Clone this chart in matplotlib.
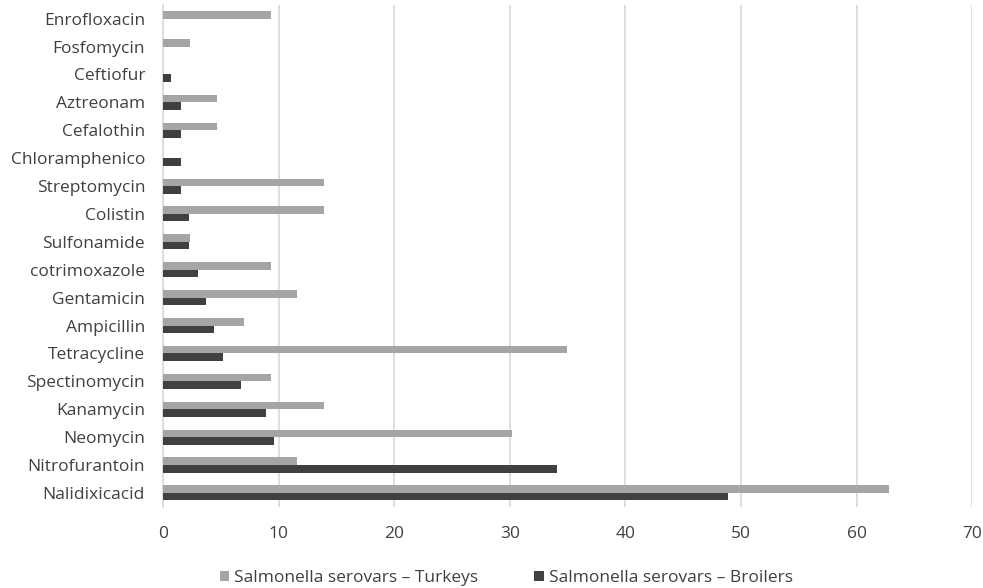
import numpy as np
import matplotlib.pyplot as plt

drugs = ['Nalidixicacid', 'Nitrofurantoin', 'Neomycin', 'Kanamycin', 'Spectinomycin',
         'Tetracycline', 'Ampicillin', 'Gentamicin', 'cotrimoxazole', 'Sulfonamide',
         'Colistin', 'Streptomycin', 'Chloramphenico', 'Cefalothin', 'Aztreonam',
         'Ceftiofur', 'Fosfomycin', 'Enrofloxacin']
turkeys = [62.8, 11.6, 30.2, 13.95, 9.3, 34.9, 7.0, 11.6, 9.3, 2.3,
           13.95, 13.95, 0, 4.65, 4.65, 0, 2.3, 9.3]
broilers = [48.9, 34.1, 9.6, 8.9, 6.7, 5.2, 4.4, 3.7, 3.0, 2.2,
            2.2, 1.5, 1.5, 1.5, 1.5, 0.7, 0, 0]

plt.rcParams['font.family'] = ['Open Sans', 'DejaVu Sans']

fig = plt.figure(figsize=(9.83, 5.88), dpi=100)
ax = fig.add_axes([0.166, 0.138, 0.823, 0.854])

y = np.arange(len(drugs))
h = 0.27
ax.barh(y + h / 2, turkeys, height=h, color='#a5a5a5', label='Salmonella serovars \u2013 Turkeys', zorder=3)
ax.barh(y - h / 2, broilers, height=h, color='#404040', label='Salmonella serovars \u2013 Broilers', zorder=3)

ax.set_xlim(0, 70)
ax.set_ylim(-0.5, len(drugs) - 0.5)
ax.set_xticks(range(0, 71, 10))
ax.set_yticks(y)
ax.set_yticklabels(drugs)
ax.grid(axis='x', color='#d9d9d9', linewidth=1.2, zorder=0)
for s in ['top', 'right', 'bottom']:
    ax.spines[s].set_visible(False)
ax.spines['left'].set_color('#d9d9d9')
ax.spines['left'].set_linewidth(1.2)
ax.tick_params(length=0, labelsize=12.5, colors='#404040')
ax.tick_params(axis='y', pad=13)
ax.tick_params(axis='x', pad=14)

fig.legend(loc='center', bbox_to_anchor=(0.515, 0.017), ncol=2, frameon=False,
           fontsize=12.5, handlelength=0.55, handleheight=0.55, handletextpad=0.3,
           columnspacing=3.2, labelcolor='#404040', borderpad=0)

plt.savefig('out.png')
